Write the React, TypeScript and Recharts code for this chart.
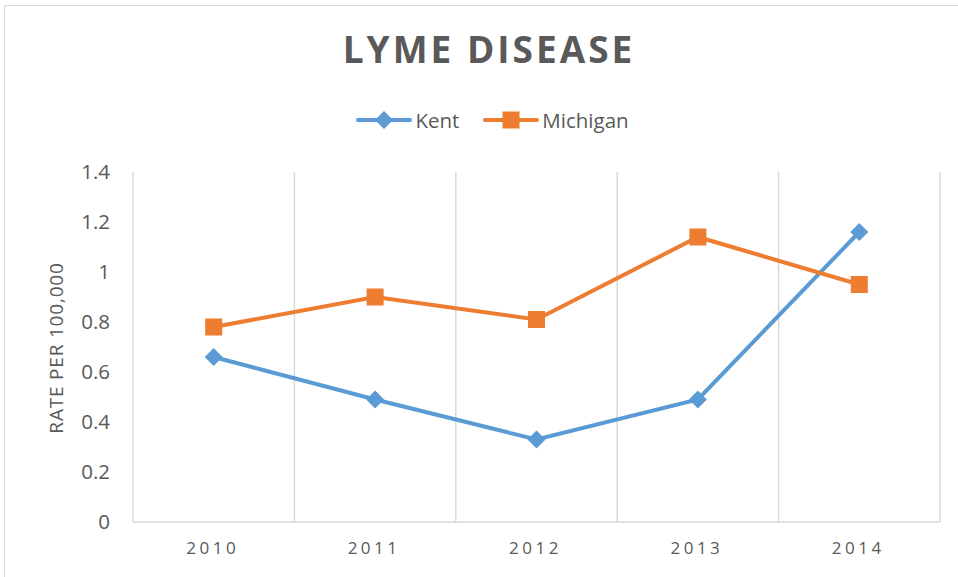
import { LineChart, Line, XAxis, YAxis, ReferenceLine } from "recharts";

const years = ["2010", "2011", "2012", "2013", "2014"];
const kent = [0.66, 0.49, 0.33, 0.49, 1.16];
const michigan = [0.78, 0.9, 0.81, 1.14, 0.95];
const yTicks = [0, 0.2, 0.4, 0.6, 0.8, 1, 1.2, 1.4];

const BLUE = "#5B9BD5";
const ORANGE = "#ED7D31";
const GRID = "#D9D9D9";
const TEXT = "#595959";
const FONT = "'Open Sans', sans-serif";

const data = years.map((year, i) => ({
  idx: i,
  year,
  kent: kent[i],
  michigan: michigan[i],
}));

// category boundaries, like Excel's vertical gridlines between categories
const boundaries = years.map((_, i) => i - 0.5).concat(years.length - 0.5);

const Diamond = (props: any) => {
  const { cx, cy, fill } = props;
  if (cx == null || cy == null) return null;
  const r = 9;
  return (
    <path
      d={`M${cx},${cy - r}L${cx + r},${cy}L${cx},${cy + r}L${cx - r},${cy}Z`}
      fill={fill}
    />
  );
};

const Square = (props: any) => {
  const { cx, cy, fill } = props;
  if (cx == null || cy == null) return null;
  const s = 17;
  return <rect x={cx - s / 2} y={cy - s / 2} width={s} height={s} fill={fill} />;
};

const legendItems = [
  { name: "Kent", color: BLUE, shape: "diamond" },
  { name: "Michigan", color: ORANGE, shape: "square" },
];

const LegendBox = () => (
  <div
    style={{
      position: "absolute",
      left: 0,
      width: 985,
      top: 106,
      display: "flex",
      justifyContent: "center",
      gap: 24,
    }}
  >
    {legendItems.map((it) => (
      <div key={it.name} style={{ display: "flex", alignItems: "center" }}>
        <svg width={56} height={26}>
          <line x1={2} y1={13} x2={54} y2={13} stroke={it.color} strokeWidth={4} strokeLinecap="round" />
          {it.shape === "diamond" ? (
            <Diamond cx={28} cy={13} fill={it.color} />
          ) : (
            <Square cx={28} cy={13} fill={it.color} />
          )}
        </svg>
        <span style={{ fontFamily: FONT, fontSize: 20.5, color: TEXT, marginLeft: 3 }}>
          {it.name}
        </span>
      </div>
    ))}
  </div>
);

export default function App() {
  return (
    <div
      style={{
        position: "absolute",
        left: 0,
        top: 0,
        width: 958,
        height: 577,
        background: "#fff",
        overflow: "hidden",
      }}
    >
      <div
        style={{
          position: "absolute",
          left: 4,
          top: 5,
          width: 980,
          height: 600,
          border: `1px solid ${GRID}`,
        }}
      />
      <div
        style={{
          position: "absolute",
          left: 0,
          width: 978,
          top: 23,
          textAlign: "center",
          fontFamily: FONT,
          fontWeight: 700,
          fontSize: 37,
          letterSpacing: 3,
          color: TEXT,
        }}
      >
        LYME DISEASE
      </div>
      <LegendBox />
      <div style={{ position: "absolute", left: 0, top: 0 }}>
        <LineChart
          width={958}
          height={577}
          data={data}
          margin={{ top: 172, right: 18, bottom: 0, left: 0 }}
        >
          <XAxis
            dataKey="idx"
            type="number"
            domain={[-0.5, years.length - 0.5]}
            ticks={years.map((_, i) => i)}
            tickFormatter={(v: number) => years[v]}
            height={55}
            axisLine={{ stroke: GRID, strokeWidth: 1.5 }}
            tickLine={false}
            tickSize={0}
            tickMargin={20}
            tick={{ fill: TEXT, fontSize: 17, fontFamily: FONT, letterSpacing: 3.5, dx: -1 }}
          />
          <YAxis
            domain={[0, 1.4]}
            ticks={yTicks}
            width={133}
            axisLine={false}
            tickLine={false}
            tickSize={0}
            tickMargin={23}
            tick={{ fill: TEXT, fontSize: 20.5, fontFamily: FONT }}
          />
          {boundaries.map((b) => (
            <ReferenceLine key={b} x={b} stroke={GRID} strokeWidth={1.5} />
          ))}
          <text
            x={58}
            y={348}
            transform="rotate(-90 58 348)"
            textAnchor="middle"
            dominantBaseline="middle"
            fill={TEXT}
            fontSize={19}
            letterSpacing={0.8}
            fontFamily={FONT}
          >
            RATE PER 100,000
          </text>
          <Line
            dataKey="kent"
            name="Kent"
            stroke={BLUE}
            strokeWidth={4}
            dot={<Diamond fill={BLUE} />}
            activeDot={false}
            isAnimationActive={false}
          />
          <Line
            dataKey="michigan"
            name="Michigan"
            stroke={ORANGE}
            strokeWidth={4}
            dot={<Square fill={ORANGE} />}
            activeDot={false}
            isAnimationActive={false}
          />
        </LineChart>
      </div>
    </div>
  );
}
